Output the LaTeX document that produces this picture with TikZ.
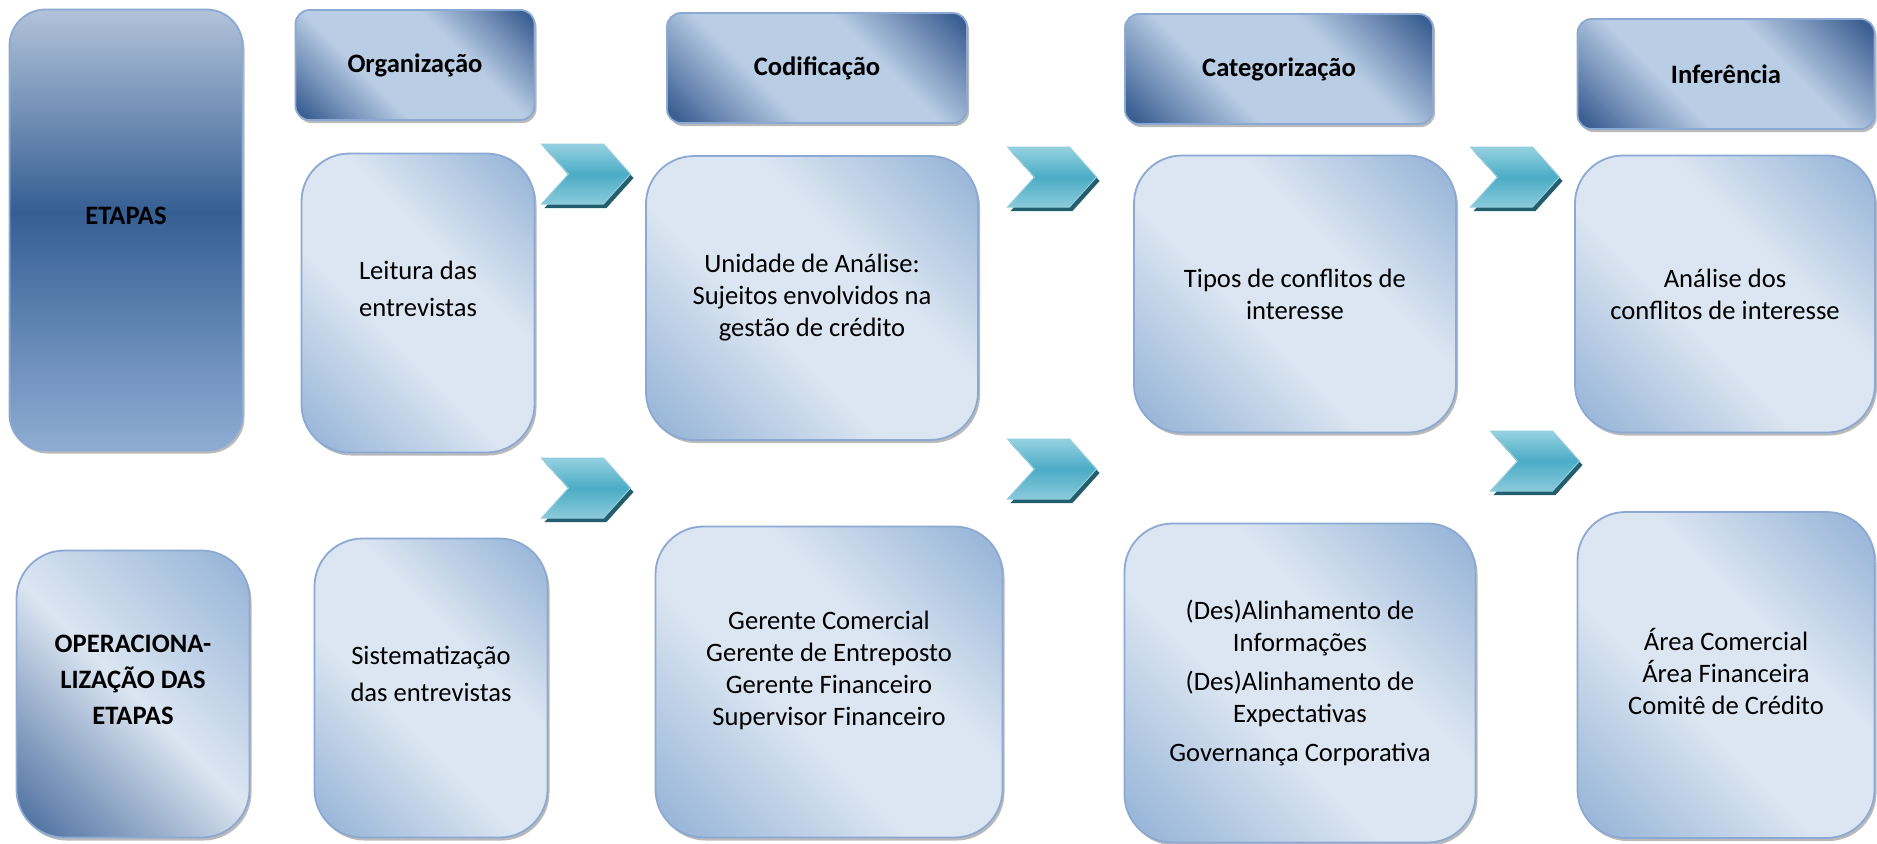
\documentclass[tikz,border=0pt]{standalone}
\usepackage{fontspec}
\setmainfont{Carlito}
\usetikzlibrary{shapes,shadows}

\definecolor{hdark}{HTML}{3B5F92}
\definecolor{hlight}{HTML}{B9CDE5}
\definecolor{bmid}{HTML}{95B3D7}
\definecolor{blight}{HTML}{DCE6F2}
\definecolor{odark}{HTML}{4A6D9E}
\definecolor{sdark}{HTML}{355E93}
\definecolor{stop}{HTML}{B2C3DA}
\definecolor{sbot}{HTML}{8FADD4}
\definecolor{edge}{HTML}{8BA9D2}
\definecolor{chevtop}{HTML}{95D1E0}
\definecolor{chevmid}{HTML}{4BACC6}
\definecolor{chevbot}{HTML}{8ACADA}
\definecolor{chevdark}{HTML}{235E6E}

\pgfdeclareverticalshading{headshade}{100bp}{color(0bp)=(hdark); color(17bp)=(hdark); color(38bp)=(hlight); color(62bp)=(hlight); color(83bp)=(hdark); color(100bp)=(hdark)}
\pgfdeclareverticalshading{bodyshade}{100bp}{color(0bp)=(bmid); color(16bp)=(bmid); color(42bp)=(blight); color(60bp)=(blight); color(84bp)=(bmid); color(100bp)=(bmid)}
\pgfdeclareverticalshading{opershade}{100bp}{color(0bp)=(odark); color(16bp)=(odark); color(50bp)=(blight); color(84bp)=(bmid); color(100bp)=(bmid)}
\pgfdeclareverticalshading{stageshade}{100bp}{color(0bp)=(sbot); color(25bp)=(sbot); color(52bp)=(sdark); color(75bp)=(stop); color(100bp)=(stop)}

\begin{document}
\begin{tikzpicture}[x=0.5pt, y=-0.5pt,
      block_head/.style ={rectangle, rounded corners=7pt, draw=edge, line width=0.9pt,
        shade, shading=headshade, shading angle=-45, font=\bfseries,
        align=center, inner sep=0pt, minimum height=55pt,
        drop shadow={shadow xshift=1pt, shadow yshift=-1.5pt, fill=black!45, opacity=0.6}},
      block_body/.style ={rectangle, rounded corners=24pt, draw=edge, line width=0.9pt,
        shade, shading=bodyshade, shading angle=-45,
        align=center, inner sep=0pt,
        drop shadow={shadow xshift=1pt, shadow yshift=-1.5pt, fill=black!45, opacity=0.6}},
      block_stage/.style ={block_body, shading=stageshade, shading angle=0,
        rounded corners=18pt, font=\bfseries},
      block_oper/.style ={block_body, shading=opershade, font=\bfseries},
      chevron/.style ={signal, signal from=west, signal to=east, signal pointer angle=96,
        minimum width=44.5pt, minimum height=30pt, inner sep=0pt,
        draw=chevmid!60!white, line width=0.5pt,
        top color=chevtop, bottom color=chevbot, middle color=chevmid,
        drop shadow={shadow xshift=1.5pt, shadow yshift=-2pt, fill=chevdark, opacity=1}}]
    \fontsize{13.3}{16}\selectfont
    \useasboundingbox (0,0) rectangle (1877,843);
    %
    % 1. left column: stages
    \node [block_stage, minimum width=116.5pt, minimum height=220.5pt, text depth=14pt]
      (etapas) at (126,230) {ETAPAS};
    \node [block_oper, minimum width=116.5pt, minimum height=143.5pt, text depth=14pt]
      (oper) at (133,694) {OPERACIONA-\\[2pt]LIZAÇÃO DAS\\[2pt]ETAPAS};
    %
    % 2. headers
    \node [block_head, minimum width=119.5pt] (org) at (415,65) {Organização};
    \node [block_head, minimum width=150pt] (cod) at (817,68) {Codificação};
    \node [block_head, minimum width=154pt] (cat) at (1279,69) {Categorização};
    \node [block_head, minimum width=148.5pt] (inf) at (1726,74) {Inferência};
    %
    % 3. upper row
    \node [block_body, minimum width=116.5pt, minimum height=149.5pt, text depth=14pt]
      (leitura) at (418,303) {Leitura das\\[2.5pt]entrevistas};
    \node [block_body, minimum width=166pt, minimum height=142pt]
      (unidade) at (812,298) {Unidade de Análise:\\Sujeitos envolvidos na\\gestão de crédito};
    \node [block_body, minimum width=161pt, minimum height=138.5pt]
      (tipos) at (1295,294) {Tipos de conflitos de\\interesse};
    \node [block_body, minimum width=150pt, minimum height=138.5pt]
      (analise) at (1725,294) {Análise dos\\conflitos de interesse};
    %
    % 4. lower row
    \node [block_body, minimum width=116.5pt, minimum height=149.5pt, text depth=14pt]
      (sistem) at (431,688) {Sistematização\\[2.5pt]das entrevistas};
    \node [block_body, minimum width=173.5pt, minimum height=155.5pt, text depth=14pt]
      (gerente) at (829,682) {Gerente Comercial\\Gerente de Entreposto\\Gerente Financeiro\\Supervisor Financeiro};
    \node [block_body, minimum width=175.5pt, minimum height=159.5pt]
      (alinh) at (1300,683) {(Des)Alinhamento de\\Informações\\[3.5pt](Des)Alinhamento de\\Expectativas\\[3.5pt]Governança Corporativa};
    \node [block_body, minimum width=148.5pt, minimum height=163pt, text depth=4pt]
      (area) at (1726,675) {Área Comercial\\Área Financeira\\Comitê de Crédito};
    %
    % 5. chevrons between the columns
    \node [chevron] (chev_org_a) at (586,174) {};
    \node [chevron] (chev_org_b) at (586,488) {};
    \node [chevron] (chev_cod_a) at (1052,177) {};
    \node [chevron] (chev_cod_b) at (1052,469) {};
    \node [chevron] (chev_cat_a) at (1515,177) {};
    \node [chevron] (chev_cat_b) at (1535,461) {};
\end{tikzpicture}
\end{document}
